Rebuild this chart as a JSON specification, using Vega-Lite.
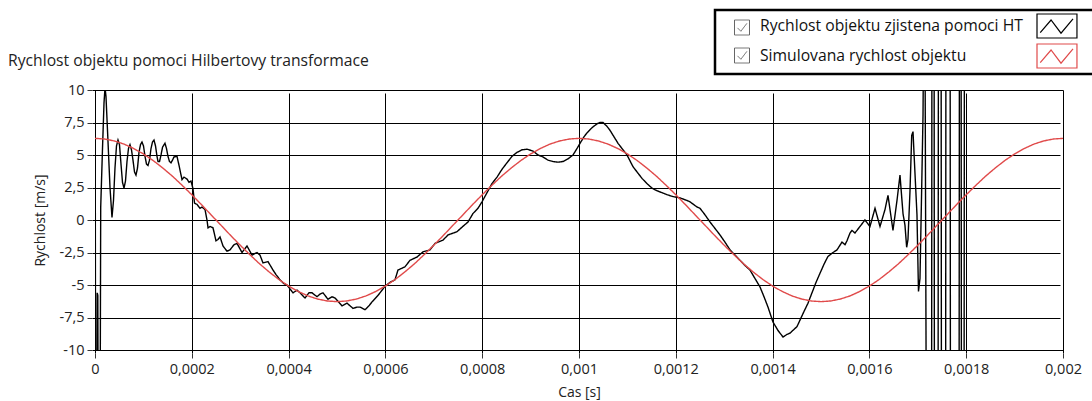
{
  "$schema": "https://vega.github.io/schema/vega-lite/v6.json",
  "width": 968,
  "height": 260,
  "autosize": {"type": "none"},
  "padding": {"left": 95, "top": 90, "right": 29, "bottom": 51},
  "background": "white",
  "title": {
    "text": "Rychlost objektu pomoci Hilbertovy transformace",
    "anchor": "start",
    "frame": "group",
    "orient": "top",
    "offset": 0,
    "dx": -87,
    "dy": 61,
    "font": "Open Sans",
    "fontSize": 15.7,
    "fontWeight": "normal",
    "color": "#222222"
  },
  "config": {
    "view": {"stroke": "black", "strokeWidth": 1},
    "axis": {
      "grid": true,
      "gridColor": "black",
      "gridOpacity": 1,
      "gridWidth": 1,
      "domain": false,
      "tickColor": "#333333",
      "tickSize": 5,
      "offset": 3,
      "labelFlush": false,
      "labelFont": "Open Sans",
      "labelFontSize": 14.5,
      "labelColor": "#222222",
      "titleFont": "Open Sans",
      "titleFontSize": 14,
      "titleFontWeight": "normal",
      "titleColor": "#222222"
    }
  },
  "data": {
    "values": [
      {"s": "HT", "t": 0, "v": 25},
      {"s": "HT", "t": 1.4, "v": -25},
      {"s": "HT", "t": 3.1, "v": -25},
      {"s": "HT", "t": 4.5, "v": -5.6},
      {"s": "HT", "t": 5.8, "v": -5.8},
      {"s": "HT", "t": 7.2, "v": -25},
      {"s": "HT", "t": 9.9, "v": -25},
      {"s": "HT", "t": 11.8, "v": 1.0},
      {"s": "HT", "t": 15.5, "v": 5.5},
      {"s": "HT", "t": 18.6, "v": 9},
      {"s": "HT", "t": 20.7, "v": 10.2},
      {"s": "HT", "t": 22.7, "v": 9.5},
      {"s": "HT", "t": 26.9, "v": 6},
      {"s": "HT", "t": 31.0, "v": 2.5},
      {"s": "HT", "t": 35.1, "v": 0.2},
      {"s": "HT", "t": 38.2, "v": 1.5},
      {"s": "HT", "t": 41.3, "v": 4},
      {"s": "HT", "t": 44.4, "v": 5.7},
      {"s": "HT", "t": 47.5, "v": 6.15},
      {"s": "HT", "t": 50.6, "v": 5.8},
      {"s": "HT", "t": 53.7, "v": 4.3},
      {"s": "HT", "t": 56.8, "v": 2.9},
      {"s": "HT", "t": 59.9, "v": 2.45},
      {"s": "HT", "t": 63.0, "v": 3.0},
      {"s": "HT", "t": 66.1, "v": 4.5},
      {"s": "HT", "t": 69.2, "v": 5.5},
      {"s": "HT", "t": 72.3, "v": 5.8},
      {"s": "HT", "t": 75.4, "v": 5.4},
      {"s": "HT", "t": 78.5, "v": 4.6},
      {"s": "HT", "t": 81.6, "v": 3.7},
      {"s": "HT", "t": 84.7, "v": 3.45},
      {"s": "HT", "t": 87.8, "v": 4.0},
      {"s": "HT", "t": 90.9, "v": 5.2},
      {"s": "HT", "t": 94.0, "v": 5.8},
      {"s": "HT", "t": 97.1, "v": 6.0},
      {"s": "HT", "t": 100.2, "v": 5.7},
      {"s": "HT", "t": 103.3, "v": 4.9},
      {"s": "HT", "t": 106.4, "v": 4.3},
      {"s": "HT", "t": 109.5, "v": 4.2},
      {"s": "HT", "t": 112.6, "v": 4.6},
      {"s": "HT", "t": 115.7, "v": 5.5},
      {"s": "HT", "t": 118.8, "v": 6.0},
      {"s": "HT", "t": 121.9, "v": 6.15},
      {"s": "HT", "t": 125.0, "v": 5.7},
      {"s": "HT", "t": 128.1, "v": 4.9},
      {"s": "HT", "t": 130.2, "v": 4.5},
      {"s": "HT", "t": 133.3, "v": 4.5},
      {"s": "HT", "t": 136.4, "v": 5.0},
      {"s": "HT", "t": 139.5, "v": 5.6},
      {"s": "HT", "t": 144.6, "v": 5.9},
      {"s": "HT", "t": 147.7, "v": 5.5},
      {"s": "HT", "t": 150.8, "v": 4.9},
      {"s": "HT", "t": 153.9, "v": 4.5},
      {"s": "HT", "t": 157.0, "v": 4.4},
      {"s": "HT", "t": 160.1, "v": 4.6},
      {"s": "HT", "t": 163.2, "v": 4.85},
      {"s": "HT", "t": 169.4, "v": 4.9},
      {"s": "HT", "t": 173.6, "v": 4.2},
      {"s": "HT", "t": 179.8, "v": 3.1},
      {"s": "HT", "t": 183.9, "v": 3.3},
      {"s": "HT", "t": 190.1, "v": 3.15},
      {"s": "HT", "t": 194.2, "v": 2.9},
      {"s": "HT", "t": 198.3, "v": 3.0},
      {"s": "HT", "t": 202.5, "v": 2.4},
      {"s": "HT", "t": 205.6, "v": 1.3},
      {"s": "HT", "t": 210.7, "v": 1.2},
      {"s": "HT", "t": 216.9, "v": 0.9},
      {"s": "HT", "t": 221.1, "v": 1.0},
      {"s": "HT", "t": 227.3, "v": 0.8},
      {"s": "HT", "t": 231.4, "v": 0.0},
      {"s": "HT", "t": 233.5, "v": -0.6},
      {"s": "HT", "t": 237.6, "v": -0.5},
      {"s": "HT", "t": 243.8, "v": -0.6},
      {"s": "HT", "t": 250.0, "v": -1.6},
      {"s": "HT", "t": 254.1, "v": -1.5},
      {"s": "HT", "t": 258.3, "v": -1.3},
      {"s": "HT", "t": 264.5, "v": -2.0},
      {"s": "HT", "t": 272.7, "v": -2.4},
      {"s": "HT", "t": 278.9, "v": -2.3},
      {"s": "HT", "t": 287.2, "v": -1.9},
      {"s": "HT", "t": 293.4, "v": -1.8},
      {"s": "HT", "t": 303.7, "v": -2.5},
      {"s": "HT", "t": 309.9, "v": -2.2},
      {"s": "HT", "t": 314.0, "v": -2.0},
      {"s": "HT", "t": 324.4, "v": -2.7},
      {"s": "HT", "t": 334.7, "v": -2.5},
      {"s": "HT", "t": 340.9, "v": -2.7},
      {"s": "HT", "t": 347.1, "v": -3.3},
      {"s": "HT", "t": 357.4, "v": -3.2},
      {"s": "HT", "t": 367.8, "v": -3.85},
      {"s": "HT", "t": 374.0, "v": -4.2},
      {"s": "HT", "t": 382.2, "v": -4.6},
      {"s": "HT", "t": 390.5, "v": -4.9},
      {"s": "HT", "t": 396.7, "v": -5.0},
      {"s": "HT", "t": 402.9, "v": -5.3},
      {"s": "HT", "t": 409.1, "v": -5.6},
      {"s": "HT", "t": 417.4, "v": -5.4},
      {"s": "HT", "t": 423.6, "v": -5.6},
      {"s": "HT", "t": 433.9, "v": -6.0},
      {"s": "HT", "t": 442.1, "v": -5.6},
      {"s": "HT", "t": 448.3, "v": -5.6},
      {"s": "HT", "t": 458.7, "v": -5.9},
      {"s": "HT", "t": 464.9, "v": -5.7},
      {"s": "HT", "t": 471.1, "v": -5.6},
      {"s": "HT", "t": 481.4, "v": -6.1},
      {"s": "HT", "t": 489.7, "v": -5.9},
      {"s": "HT", "t": 495.9, "v": -6.0},
      {"s": "HT", "t": 510.3, "v": -6.6},
      {"s": "HT", "t": 520.7, "v": -6.4},
      {"s": "HT", "t": 533.1, "v": -6.8},
      {"s": "HT", "t": 541.3, "v": -6.7},
      {"s": "HT", "t": 547.5, "v": -6.7},
      {"s": "HT", "t": 557.9, "v": -6.9},
      {"s": "HT", "t": 566.1, "v": -6.6},
      {"s": "HT", "t": 572.3, "v": -6.3},
      {"s": "HT", "t": 584.7, "v": -5.8},
      {"s": "HT", "t": 599.2, "v": -5.1},
      {"s": "HT", "t": 609.5, "v": -4.8},
      {"s": "HT", "t": 619.8, "v": -4.6},
      {"s": "HT", "t": 626.0, "v": -3.85},
      {"s": "HT", "t": 640.5, "v": -3.6},
      {"s": "HT", "t": 650.8, "v": -3.1},
      {"s": "HT", "t": 665.3, "v": -2.85},
      {"s": "HT", "t": 677.7, "v": -2.45},
      {"s": "HT", "t": 692.1, "v": -2.3},
      {"s": "HT", "t": 702.5, "v": -1.8},
      {"s": "HT", "t": 719.0, "v": -1.55},
      {"s": "HT", "t": 729.3, "v": -1.15},
      {"s": "HT", "t": 747.9, "v": -0.9},
      {"s": "HT", "t": 758.3, "v": -0.55},
      {"s": "HT", "t": 770.7, "v": -0.15},
      {"s": "HT", "t": 781.0, "v": 0.5},
      {"s": "HT", "t": 791.3, "v": 0.9},
      {"s": "HT", "t": 799.6, "v": 1.4},
      {"s": "HT", "t": 809.9, "v": 2.1},
      {"s": "HT", "t": 820.2, "v": 2.8},
      {"s": "HT", "t": 830.6, "v": 3.3},
      {"s": "HT", "t": 840.9, "v": 3.9},
      {"s": "HT", "t": 851.2, "v": 4.4},
      {"s": "HT", "t": 861.6, "v": 4.9},
      {"s": "HT", "t": 871.9, "v": 5.2},
      {"s": "HT", "t": 882.2, "v": 5.4},
      {"s": "HT", "t": 892.6, "v": 5.45},
      {"s": "HT", "t": 905.0, "v": 5.3},
      {"s": "HT", "t": 915.3, "v": 5.0},
      {"s": "HT", "t": 925.6, "v": 4.85},
      {"s": "HT", "t": 936.0, "v": 4.6},
      {"s": "HT", "t": 946.3, "v": 4.5},
      {"s": "HT", "t": 956.6, "v": 4.45},
      {"s": "HT", "t": 966.9, "v": 4.5},
      {"s": "HT", "t": 977.3, "v": 4.7},
      {"s": "HT", "t": 987.6, "v": 5.0},
      {"s": "HT", "t": 995.9, "v": 5.5},
      {"s": "HT", "t": 1002.1, "v": 5.9},
      {"s": "HT", "t": 1010.3, "v": 6.4},
      {"s": "HT", "t": 1016.5, "v": 6.7},
      {"s": "HT", "t": 1026.9, "v": 7.1},
      {"s": "HT", "t": 1037.2, "v": 7.4},
      {"s": "HT", "t": 1043.4, "v": 7.5},
      {"s": "HT", "t": 1049.6, "v": 7.5},
      {"s": "HT", "t": 1057.9, "v": 7.2},
      {"s": "HT", "t": 1064.0, "v": 6.9},
      {"s": "HT", "t": 1072.3, "v": 6.4},
      {"s": "HT", "t": 1080.6, "v": 5.9},
      {"s": "HT", "t": 1088.8, "v": 5.5},
      {"s": "HT", "t": 1099.2, "v": 5.0},
      {"s": "HT", "t": 1111.6, "v": 4.1},
      {"s": "HT", "t": 1121.9, "v": 3.6},
      {"s": "HT", "t": 1130.2, "v": 3.2},
      {"s": "HT", "t": 1140.5, "v": 2.8},
      {"s": "HT", "t": 1150.8, "v": 2.45},
      {"s": "HT", "t": 1161.2, "v": 2.25},
      {"s": "HT", "t": 1171.5, "v": 2.1},
      {"s": "HT", "t": 1181.8, "v": 1.95},
      {"s": "HT", "t": 1194.2, "v": 1.8},
      {"s": "HT", "t": 1208.7, "v": 1.7},
      {"s": "HT", "t": 1223.2, "v": 1.5},
      {"s": "HT", "t": 1229.3, "v": 1.4},
      {"s": "HT", "t": 1243.8, "v": 1.0},
      {"s": "HT", "t": 1250.0, "v": 0.9},
      {"s": "HT", "t": 1260.3, "v": 0.4},
      {"s": "HT", "t": 1270.6, "v": -0.15},
      {"s": "HT", "t": 1281.0, "v": -0.65},
      {"s": "HT", "t": 1291.3, "v": -1.15},
      {"s": "HT", "t": 1301.6, "v": -1.7},
      {"s": "HT", "t": 1312.0, "v": -2.3},
      {"s": "HT", "t": 1322.3, "v": -2.7},
      {"s": "HT", "t": 1332.6, "v": -3.1},
      {"s": "HT", "t": 1343.0, "v": -3.5},
      {"s": "HT", "t": 1353.3, "v": -3.85},
      {"s": "HT", "t": 1363.6, "v": -4.5},
      {"s": "HT", "t": 1374.0, "v": -5.15},
      {"s": "HT", "t": 1382.2, "v": -5.9},
      {"s": "HT", "t": 1390.5, "v": -6.7},
      {"s": "HT", "t": 1400.8, "v": -7.85},
      {"s": "HT", "t": 1411.2, "v": -8.5},
      {"s": "HT", "t": 1421.5, "v": -9.0},
      {"s": "HT", "t": 1429.8, "v": -8.8},
      {"s": "HT", "t": 1436.0, "v": -8.7},
      {"s": "HT", "t": 1450.4, "v": -8.2},
      {"s": "HT", "t": 1456.6, "v": -7.7},
      {"s": "HT", "t": 1462.8, "v": -7.2},
      {"s": "HT", "t": 1473.1, "v": -6.4},
      {"s": "HT", "t": 1481.4, "v": -5.6},
      {"s": "HT", "t": 1489.7, "v": -4.8},
      {"s": "HT", "t": 1497.9, "v": -4.1},
      {"s": "HT", "t": 1506.2, "v": -3.4},
      {"s": "HT", "t": 1514.4, "v": -2.8},
      {"s": "HT", "t": 1524.8, "v": -2.5},
      {"s": "HT", "t": 1533.0, "v": -2.3},
      {"s": "HT", "t": 1543.4, "v": -1.7},
      {"s": "HT", "t": 1549.6, "v": -1.9},
      {"s": "HT", "t": 1553.7, "v": -1.6},
      {"s": "HT", "t": 1559.9, "v": -1.0},
      {"s": "HT", "t": 1564.0, "v": -0.8},
      {"s": "HT", "t": 1570.2, "v": -1.0},
      {"s": "HT", "t": 1580.5, "v": -0.5},
      {"s": "HT", "t": 1590.8, "v": 0.0},
      {"s": "HT", "t": 1601.2, "v": -0.5},
      {"s": "HT", "t": 1611.6, "v": 0.9},
      {"s": "HT", "t": 1621.9, "v": -0.5},
      {"s": "HT", "t": 1632.2, "v": 0.8},
      {"s": "HT", "t": 1638.4, "v": 1.9},
      {"s": "HT", "t": 1648.7, "v": -0.8},
      {"s": "HT", "t": 1657.0, "v": 1.5},
      {"s": "HT", "t": 1663.2, "v": 3.45},
      {"s": "HT", "t": 1669.4, "v": 0.5},
      {"s": "HT", "t": 1673.5, "v": -0.4},
      {"s": "HT", "t": 1677.0, "v": -2.1},
      {"s": "HT", "t": 1679.7, "v": -1.5},
      {"s": "HT", "t": 1683.8, "v": 2.15},
      {"s": "HT", "t": 1687.4, "v": 6.5},
      {"s": "HT", "t": 1690.1, "v": 6.8},
      {"s": "HT", "t": 1692.1, "v": 5.2},
      {"s": "HT", "t": 1698.3, "v": 0.4},
      {"s": "HT", "t": 1701.4, "v": -5.5},
      {"s": "HT", "t": 1704.5, "v": -4.5},
      {"s": "HT", "t": 1708.0, "v": 2.4},
      {"s": "HT", "t": 1710.8, "v": 8.1},
      {"s": "HT", "t": 1713.9, "v": 25},
      {"s": "HT", "t": 1718.4, "v": -25},
      {"s": "HT", "t": 1728.3, "v": -25},
      {"s": "HT", "t": 1729.4, "v": 25},
      {"s": "HT", "t": 1733.5, "v": 25},
      {"s": "HT", "t": 1734.5, "v": -25},
      {"s": "HT", "t": 1741.7, "v": -25},
      {"s": "HT", "t": 1742.8, "v": 25},
      {"s": "HT", "t": 1748.0, "v": 25},
      {"s": "HT", "t": 1749.0, "v": -25},
      {"s": "HT", "t": 1757.3, "v": -25},
      {"s": "HT", "t": 1758.3, "v": 25},
      {"s": "HT", "t": 1766.6, "v": 25},
      {"s": "HT", "t": 1767.6, "v": -25},
      {"s": "HT", "t": 1785.1, "v": -25},
      {"s": "HT", "t": 1786.2, "v": 25},
      {"s": "HT", "t": 1789.3, "v": 25},
      {"s": "HT", "t": 1790.3, "v": -25},
      {"s": "HT", "t": 1795.4, "v": -25},
      {"s": "HT", "t": 1796.5, "v": 25},

      {"s": "sim", "t": 0, "v": 6.28},
      {"s": "sim", "t": 20, "v": 6.23},
      {"s": "sim", "t": 40, "v": 6.08},
      {"s": "sim", "t": 60, "v": 5.84},
      {"s": "sim", "t": 80, "v": 5.5},
      {"s": "sim", "t": 100, "v": 5.08},
      {"s": "sim", "t": 120, "v": 4.58},
      {"s": "sim", "t": 140, "v": 4.0},
      {"s": "sim", "t": 160, "v": 3.37},
      {"s": "sim", "t": 180, "v": 2.67},
      {"s": "sim", "t": 200, "v": 1.94},
      {"s": "sim", "t": 220, "v": 1.18},
      {"s": "sim", "t": 240, "v": 0.39},
      {"s": "sim", "t": 260, "v": -0.39},
      {"s": "sim", "t": 280, "v": -1.18},
      {"s": "sim", "t": 300, "v": -1.94},
      {"s": "sim", "t": 320, "v": -2.67},
      {"s": "sim", "t": 340, "v": -3.37},
      {"s": "sim", "t": 360, "v": -4.0},
      {"s": "sim", "t": 380, "v": -4.58},
      {"s": "sim", "t": 400, "v": -5.08},
      {"s": "sim", "t": 420, "v": -5.5},
      {"s": "sim", "t": 440, "v": -5.84},
      {"s": "sim", "t": 460, "v": -6.08},
      {"s": "sim", "t": 480, "v": -6.23},
      {"s": "sim", "t": 500, "v": -6.28},
      {"s": "sim", "t": 520, "v": -6.23},
      {"s": "sim", "t": 540, "v": -6.08},
      {"s": "sim", "t": 560, "v": -5.84},
      {"s": "sim", "t": 580, "v": -5.5},
      {"s": "sim", "t": 600, "v": -5.08},
      {"s": "sim", "t": 620, "v": -4.58},
      {"s": "sim", "t": 640, "v": -4.0},
      {"s": "sim", "t": 660, "v": -3.37},
      {"s": "sim", "t": 680, "v": -2.67},
      {"s": "sim", "t": 700, "v": -1.94},
      {"s": "sim", "t": 720, "v": -1.18},
      {"s": "sim", "t": 740, "v": -0.39},
      {"s": "sim", "t": 760, "v": 0.39},
      {"s": "sim", "t": 780, "v": 1.18},
      {"s": "sim", "t": 800, "v": 1.94},
      {"s": "sim", "t": 820, "v": 2.67},
      {"s": "sim", "t": 840, "v": 3.37},
      {"s": "sim", "t": 860, "v": 4.0},
      {"s": "sim", "t": 880, "v": 4.58},
      {"s": "sim", "t": 900, "v": 5.08},
      {"s": "sim", "t": 920, "v": 5.5},
      {"s": "sim", "t": 940, "v": 5.84},
      {"s": "sim", "t": 960, "v": 6.08},
      {"s": "sim", "t": 980, "v": 6.23},
      {"s": "sim", "t": 1000, "v": 6.28},
      {"s": "sim", "t": 1020, "v": 6.23},
      {"s": "sim", "t": 1040, "v": 6.08},
      {"s": "sim", "t": 1060, "v": 5.84},
      {"s": "sim", "t": 1080, "v": 5.5},
      {"s": "sim", "t": 1100, "v": 5.08},
      {"s": "sim", "t": 1120, "v": 4.58},
      {"s": "sim", "t": 1140, "v": 4.0},
      {"s": "sim", "t": 1160, "v": 3.37},
      {"s": "sim", "t": 1180, "v": 2.67},
      {"s": "sim", "t": 1200, "v": 1.94},
      {"s": "sim", "t": 1220, "v": 1.18},
      {"s": "sim", "t": 1240, "v": 0.39},
      {"s": "sim", "t": 1260, "v": -0.39},
      {"s": "sim", "t": 1280, "v": -1.18},
      {"s": "sim", "t": 1300, "v": -1.94},
      {"s": "sim", "t": 1320, "v": -2.67},
      {"s": "sim", "t": 1340, "v": -3.37},
      {"s": "sim", "t": 1360, "v": -4.0},
      {"s": "sim", "t": 1380, "v": -4.58},
      {"s": "sim", "t": 1400, "v": -5.08},
      {"s": "sim", "t": 1420, "v": -5.5},
      {"s": "sim", "t": 1440, "v": -5.84},
      {"s": "sim", "t": 1460, "v": -6.08},
      {"s": "sim", "t": 1480, "v": -6.23},
      {"s": "sim", "t": 1500, "v": -6.28},
      {"s": "sim", "t": 1520, "v": -6.23},
      {"s": "sim", "t": 1540, "v": -6.08},
      {"s": "sim", "t": 1560, "v": -5.84},
      {"s": "sim", "t": 1580, "v": -5.5},
      {"s": "sim", "t": 1600, "v": -5.08},
      {"s": "sim", "t": 1620, "v": -4.58},
      {"s": "sim", "t": 1640, "v": -4.0},
      {"s": "sim", "t": 1660, "v": -3.37},
      {"s": "sim", "t": 1680, "v": -2.67},
      {"s": "sim", "t": 1700, "v": -1.94},
      {"s": "sim", "t": 1720, "v": -1.18},
      {"s": "sim", "t": 1740, "v": -0.39},
      {"s": "sim", "t": 1760, "v": 0.39},
      {"s": "sim", "t": 1780, "v": 1.18},
      {"s": "sim", "t": 1800, "v": 1.94},
      {"s": "sim", "t": 1820, "v": 2.67},
      {"s": "sim", "t": 1840, "v": 3.37},
      {"s": "sim", "t": 1860, "v": 4.0},
      {"s": "sim", "t": 1880, "v": 4.58},
      {"s": "sim", "t": 1900, "v": 5.08},
      {"s": "sim", "t": 1920, "v": 5.5},
      {"s": "sim", "t": 1940, "v": 5.84},
      {"s": "sim", "t": 1960, "v": 6.08},
      {"s": "sim", "t": 1980, "v": 6.23},
      {"s": "sim", "t": 2000, "v": 6.28}
    ]
  },
  "mark": {"type": "line", "clip": true, "strokeWidth": 1.4},
  "encoding": {
    "x": {
      "field": "t",
      "type": "quantitative",
      "scale": {"domain": [0, 2000], "nice": false, "zero": false},
      "axis": {
        "values": [0, 200, 400, 600, 800, 1000, 1200, 1400, 1600, 1800, 2000],
        "labelExpr": "replace(format(datum.value / 1000000, '~g'), '.', ',')",
        "labelPadding": 4,
        "title": "Cas [s]",
        "titleX": 484,
        "titleY": 39,
        "titleBaseline": "middle"
      }
    },
    "y": {
      "field": "v",
      "type": "quantitative",
      "scale": {"domain": [-10, 10], "nice": false, "zero": false},
      "axis": {
        "values": [-10, -7.5, -5, -2.5, 0, 2.5, 5, 7.5, 10],
        "labelExpr": "replace(datum.value + '', '.', ',')",
        "labelPadding": 3,
        "title": "Rychlost [m/s]",
        "titleX": -52,
        "titleY": 130,
        "titleAngle": -90,
        "titleAlign": "center",
        "titleBaseline": "middle"
      }
    },
    "color": {
      "field": "s",
      "type": "nominal",
      "scale": {"domain": ["HT", "sim"], "range": ["#000000", "#e04a4a"]},
      "legend": {
        "orient": "none",
        "legendX": 620,
        "legendY": -80,
        "title": null,
        "padding": 3,
        "rowPadding": 0,
        "strokeColor": "black",
        "symbolSize": 576,
        "symbolStrokeWidth": 1.2,
        "symbolType": "M25.5,-1H28.83V1H25.5Z M25.77,0.56L26.67,-0.5L27.5,0.6L28.5,-0.6 M30.9,0",
        "labelOffset": 16,
        "labelFont": "Open Sans",
        "labelFontSize": 15.7,
        "labelColor": "#111111",
        "labelLimit": 500,
        "labelExpr": "datum.value == 'HT' ? 'Rychlost objektu zjistena pomoci HT' : 'Simulovana rychlost objektu'",
        "encode": {
          "symbols": {"update": {"fill": {"value": "transparent"}}},
          "legend": {"update": {"strokeWidth": {"value": 2.5}}}
        }
      }
    },
    "strokeDash": {
      "field": "s",
      "type": "nominal",
      "scale": {"range": [[1, 0], [1, 0]]},
      "legend": {
        "orient": "none",
        "legendX": 639,
        "legendY": -70.5,
        "title": null,
        "padding": 0,
        "rowPadding": 8,
        "symbolSize": 225,
        "symbolType": "M-1,-1H1V1H-1Z M-0.6,0.05L-0.15,0.5L0.65,-0.55",
        "symbolStrokeColor": "#666666",
        "symbolStrokeWidth": 1,
        "labelExpr": "''",
        "labelFontSize": 10,
        "encode": {
          "symbols": {"update": {"fill": {"value": "transparent"}, "stroke": {"value": "#666666"}}}
        }
      }
    }
  }
}
